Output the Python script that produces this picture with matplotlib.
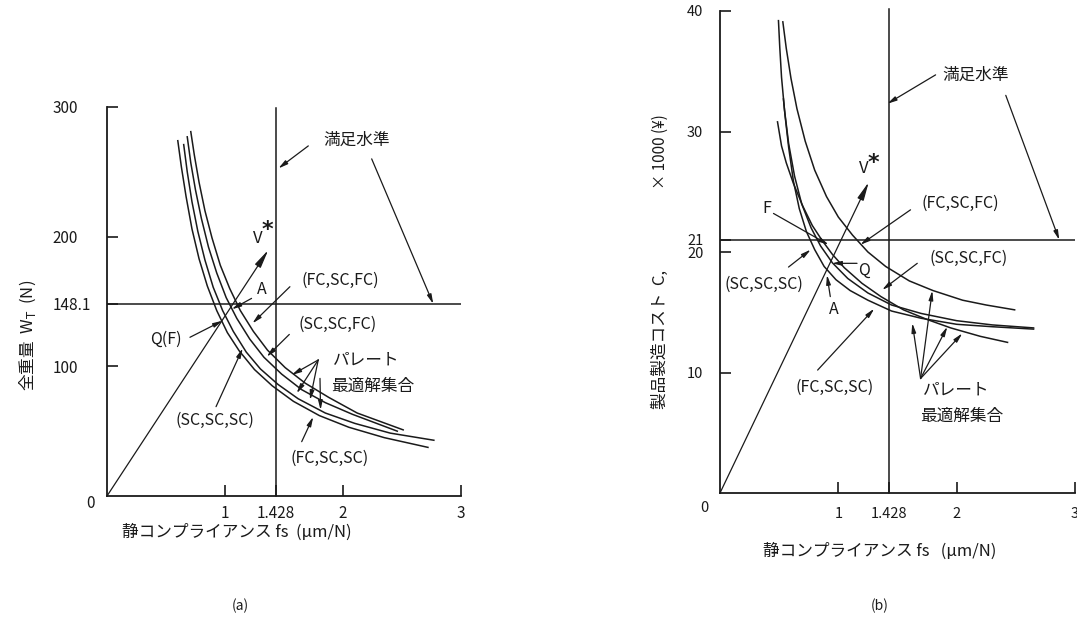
import numpy as np
import matplotlib.pyplot as plt

plt.rcParams['font.family'] = ['Noto Sans CJK JP', 'DejaVu Sans']
plt.rcParams['mathtext.fontset'] = 'dejavusans'

ink = '#1a1a1a'

# ---- (a) 全重量 vs 静コンプライアンス ----
a_level_fs = 1.428
a_level_w = 148.1
a_xticks = [1, 1.428, 2, 3]
a_xticklabels = ['1', '1.428', '2', '3']
a_yticks = [100, 148.1, 200, 300]
a_yticklabels = ['100', '148.1', '200', '300']

a_x1 = [0.60, 0.63, 0.67, 0.72, 0.78, 0.85, 0.93, 1.02, 1.12, 1.25, 1.40, 1.58, 1.80, 2.05, 2.35, 2.72]
a_y1 = [274, 254, 231, 206, 183, 162, 143, 126, 112, 97.5, 85, 73, 62, 53, 45, 37.5]
a_x2 = [0.65, 0.68, 0.72, 0.77, 0.83, 0.90, 0.98, 1.07, 1.18, 1.30, 1.45, 1.62, 1.85, 2.10, 2.40, 2.77]
a_y2 = [271, 250, 227, 204, 182, 161, 143, 127, 111, 98, 86, 75, 64, 56, 48.5, 43]
a_x3 = [0.68, 0.71, 0.75, 0.80, 0.86, 0.93, 1.01, 1.10, 1.21, 1.33, 1.48, 1.65, 1.85, 2.08, 2.46]
a_y3 = [277, 257, 236, 214, 192, 172, 153, 137, 121, 107, 94, 82, 72, 63, 50]
a_x4 = [0.71, 0.74, 0.78, 0.83, 0.89, 0.96, 1.04, 1.13, 1.24, 1.36, 1.51, 1.68, 1.88, 2.12, 2.51]
a_y4 = [281, 263, 242, 220, 199, 178, 160, 143, 127, 112.5, 99, 87, 76, 64, 51]
a_vstar = (1.367, 189.7)

# ---- (b) 製品製造コスト vs 静コンプライアンス ----
b_level_fs = 1.428
b_level_c = 21
b_xticks = [1, 1.428, 2, 3]
b_xticklabels = ['1', '1.428', '2', '3']
b_yticks = [10, 20, 21, 30, 40]
b_yticklabels = ['10', '20', '21', '30', '40']

b_x1 = [0.494, 0.505, 0.52, 0.545, 0.58, 0.63, 0.69, 0.77, 0.85, 0.95, 1.08, 1.25, 1.45, 1.70, 2.00, 2.30, 2.65]
b_y1 = [39.2, 37.0, 34.5, 31.8, 29.0, 26.3, 24.0, 22.0, 20.5, 19.1, 17.8, 16.6, 15.6, 14.9, 14.3, 13.95, 13.7]
b_x2 = [0.531, 0.56, 0.60, 0.65, 0.72, 0.80, 0.90, 1.00, 1.12, 1.25, 1.40, 1.60, 1.80, 2.05, 2.25, 2.49]
b_y2 = [39.1, 36.9, 34.4, 31.9, 29.2, 26.8, 24.6, 22.9, 21.4, 20.0, 18.8, 17.6, 16.8, 16.0, 15.6, 15.2]
b_x3 = [0.536, 0.55, 0.58, 0.62, 0.67, 0.73, 0.80, 0.88, 0.98, 1.10, 1.25, 1.45, 1.70, 2.00, 2.30, 2.65]
b_y3 = [32.7, 31.3, 28.7, 25.9, 23.6, 21.7, 20.2, 18.8, 17.7, 16.8, 16.0, 15.1, 14.5, 14.0, 13.8, 13.6]
b_x4 = [0.486, 0.52, 0.56, 0.62, 0.70, 0.78, 0.86, 0.95, 1.05, 1.20, 1.36, 1.55, 1.75, 1.95, 2.20, 2.43]
b_y4 = [30.8, 28.8, 27.4, 25.7, 23.8, 22.2, 21.0, 19.8, 18.7, 17.4, 16.3, 15.2, 14.4, 13.7, 13.0, 12.5]
b_vstar = (1.257, 25.8)


def style(ax, xmax, ymax):
    ax.set_xlim(0, xmax)
    ax.set_ylim(0, ymax)
    for s in ['top', 'right']:
        ax.spines[s].set_visible(False)
    for s in ['left', 'bottom']:
        ax.spines[s].set_linewidth(1.3)
        ax.spines[s].set_color(ink)
    ax.tick_params(direction='in', length=8, width=1.2, colors=ink)


def arrow(ax, tail, head, hl=0.55, hw=0.13, lw=0.9):
    ax.annotate('', xy=head, xytext=tail,
                arrowprops=dict(arrowstyle='-|>,head_length=%s,head_width=%s' % (hl, hw),
                                lw=lw, color=ink, shrinkA=0, shrinkB=0))


def txt(ax, x, y, s, size=11.5, **kw):
    ax.text(x, y, s, fontsize=size, color=ink, ha='center', va='center', **kw)


fig = plt.figure(figsize=(10.77, 6.24), dpi=100)

# ======== (a) ========
ax1 = fig.add_axes([107 / 1077, 1 - 496 / 624, 354 / 1077, 389 / 624])
style(ax1, 3, 300)
for x, y in [(a_x1, a_y1), (a_x2, a_y2), (a_x3, a_y3), (a_x4, a_y4)]:
    ax1.plot(x, y, color=ink, lw=1.1)
ax1.plot([a_level_fs, a_level_fs], [0, 299], color=ink, lw=1.1, clip_on=False)
ax1.plot([0, 3], [a_level_w, a_level_w], color=ink, lw=1.1)
arrow(ax1, (0, 0), a_vstar, hl=1.1, hw=0.2)

ax1.set_xticks(a_xticks)
ax1.set_xticklabels(a_xticklabels, fontsize=11)
ax1.set_yticks(a_yticks)
ax1.set_yticklabels(a_yticklabels, fontsize=11)
ax1.tick_params(axis='x', pad=6.5)
ax1.tick_params(axis='y', pad=39)
for lb in ax1.get_yticklabels():
    lb.set_ha('left')
txt(ax1, -0.14, -5.5, '0', size=11)

txt(ax1, 2.116, 274.5, '満足水準', size=12)
arrow(ax1, (1.706, 270), (1.452, 252.6))
arrow(ax1, (2.243, 260), (2.765, a_level_w))
txt(ax1, 1.274, 198.6, 'V', size=12)
txt(ax1, 1.36, 205, '*', size=16, family='DejaVu Sans', fontweight='bold')
txt(ax1, 1.316, 159, 'A', size=11.5)
arrow(ax1, (1.225, 152.4), (1.057, 144))
txt(ax1, 0.503, 121, 'Q(F)', size=11.5)
arrow(ax1, (0.703, 122.4), (0.98, 135.2))
txt(ax1, 1.98, 166.5, '(FC,SC,FC)')
arrow(ax1, (1.55, 161.4), (1.232, 133.1))
txt(ax1, 1.953, 132.6, '(SC,SC,FC)')
arrow(ax1, (1.545, 124.6), (1.353, 107.4))
txt(ax1, 0.915, 58.6, '(SC,SC,SC)')
arrow(ax1, (0.924, 68.9), (1.15, 113.9))
txt(ax1, 1.883, 29.3, '(FC,SC,SC)')
arrow(ax1, (1.65, 41.9), (1.748, 61.1))
txt(ax1, 2.2, 104.9, 'パレート', size=12)
txt(ax1, 2.25, 84.3, '最適解集合', size=12)
arrow(ax1, (1.79, 104.9), (1.565, 93.3))
arrow(ax1, (1.79, 104.9), (1.607, 79.2))
arrow(ax1, (1.79, 104.9), (1.72, 74))
arrow(ax1, (1.805, 90.7), (1.81, 66.3))

# ======== (b) ========
ax2 = fig.add_axes([720 / 1077, 1 - 493 / 624, 355 / 1077, 482 / 624])
style(ax2, 3, 40)
for x, y in [(b_x1, b_y1), (b_x2, b_y2), (b_x3, b_y3), (b_x4, b_y4)]:
    ax2.plot(x, y, color=ink, lw=1.1)
ax2.plot([b_level_fs, b_level_fs], [0, 40.2], color=ink, lw=1.1, clip_on=False)
ax2.plot([0, 3], [b_level_c, b_level_c], color=ink, lw=1.1)
arrow(ax2, (0, 0), b_vstar, hl=1.1, hw=0.2)

ax2.set_xticks(b_xticks)
ax2.set_xticklabels(b_xticklabels, fontsize=10.5)
ax2.set_yticks(b_yticks)
ax2.set_yticklabels(b_yticklabels, fontsize=10.5)
ax2.tick_params(axis='x', pad=10)
ax2.tick_params(axis='y', pad=12)
txt(ax2, -0.131, -1.24, '0', size=10.5)

txt(ax2, 2.16, 34.7, '満足水準', size=12)
arrow(ax2, (1.822, 34.7), (1.413, 32.3))
arrow(ax2, (2.415, 33.0), (2.867, b_level_c))
txt(ax2, 1.215, 26.9, 'V', size=12)
txt(ax2, 1.30, 27.4, '*', size=16, family='DejaVu Sans', fontweight='bold')
txt(ax2, 2.034, 24.0, '(FC,SC,FC)')
arrow(ax2, (1.61, 23.5), (1.186, 20.6))
txt(ax2, 2.10, 19.5, '(SC,SC,FC)')
arrow(ax2, (1.667, 19.06), (1.37, 16.85))
txt(ax2, 0.396, 23.6, 'F', size=11.5)
arrow(ax2, (0.452, 23.2), (0.918, 20.6))
txt(ax2, 0.375, 17.3, '(SC,SC,SC)')
arrow(ax2, (0.579, 18.75), (0.767, 20.2))
txt(ax2, 1.215, 18.5, 'Q', size=11.5)
arrow(ax2, (1.158, 19.06), (0.946, 19.06))
txt(ax2, 0.96, 15.2, 'A', size=11.5)
arrow(ax2, (0.932, 16.3), (0.904, 18.1))
txt(ax2, 0.97, 8.8, '(FC,SC,SC)')
arrow(ax2, (0.825, 10.2), (1.304, 15.3))
txt(ax2, 2.0, 8.5, 'パレート', size=12)
txt(ax2, 2.044, 6.4, '最適解集合', size=12)
arrow(ax2, (1.695, 9.5), (1.625, 14.1))
arrow(ax2, (1.695, 9.5), (1.794, 16.8))
arrow(ax2, (1.695, 9.5), (1.921, 13.8))
arrow(ax2, (1.695, 9.5), (2.048, 13.25))

# ---- axis titles ----
fig.text(28 / 1077, 1 - 335 / 624, '全重量  W$_\\mathrm{T}$  (N)', rotation=90,
         ha='center', va='center', fontsize=12, color=ink)
fig.text(660 / 1077, 1 - 339 / 624, '製品製造コスト  C,', rotation=90,
         ha='center', va='center', fontsize=12, color=ink)
fig.text(660 / 1077, 1 - 152 / 624, '× 1000 (¥)', rotation=90,
         ha='center', va='center', fontsize=11, color=ink)
fig.text(237 / 1077, 1 - 532 / 624, '静コンプライアンス fs  (μm/N)',
         ha='center', va='center', fontsize=12, color=ink)
fig.text(880 / 1077, 1 - 551 / 624, '静コンプライアンス fs   (μm/N)',
         ha='center', va='center', fontsize=12, color=ink)
fig.text(240 / 1077, 1 - 606 / 624, '(a)', ha='center', va='center', fontsize=10, color=ink)
fig.text(880 / 1077, 1 - 606 / 624, '(b)', ha='center', va='center', fontsize=10, color=ink)

fig.savefig('out.png', dpi=100, facecolor='white')
